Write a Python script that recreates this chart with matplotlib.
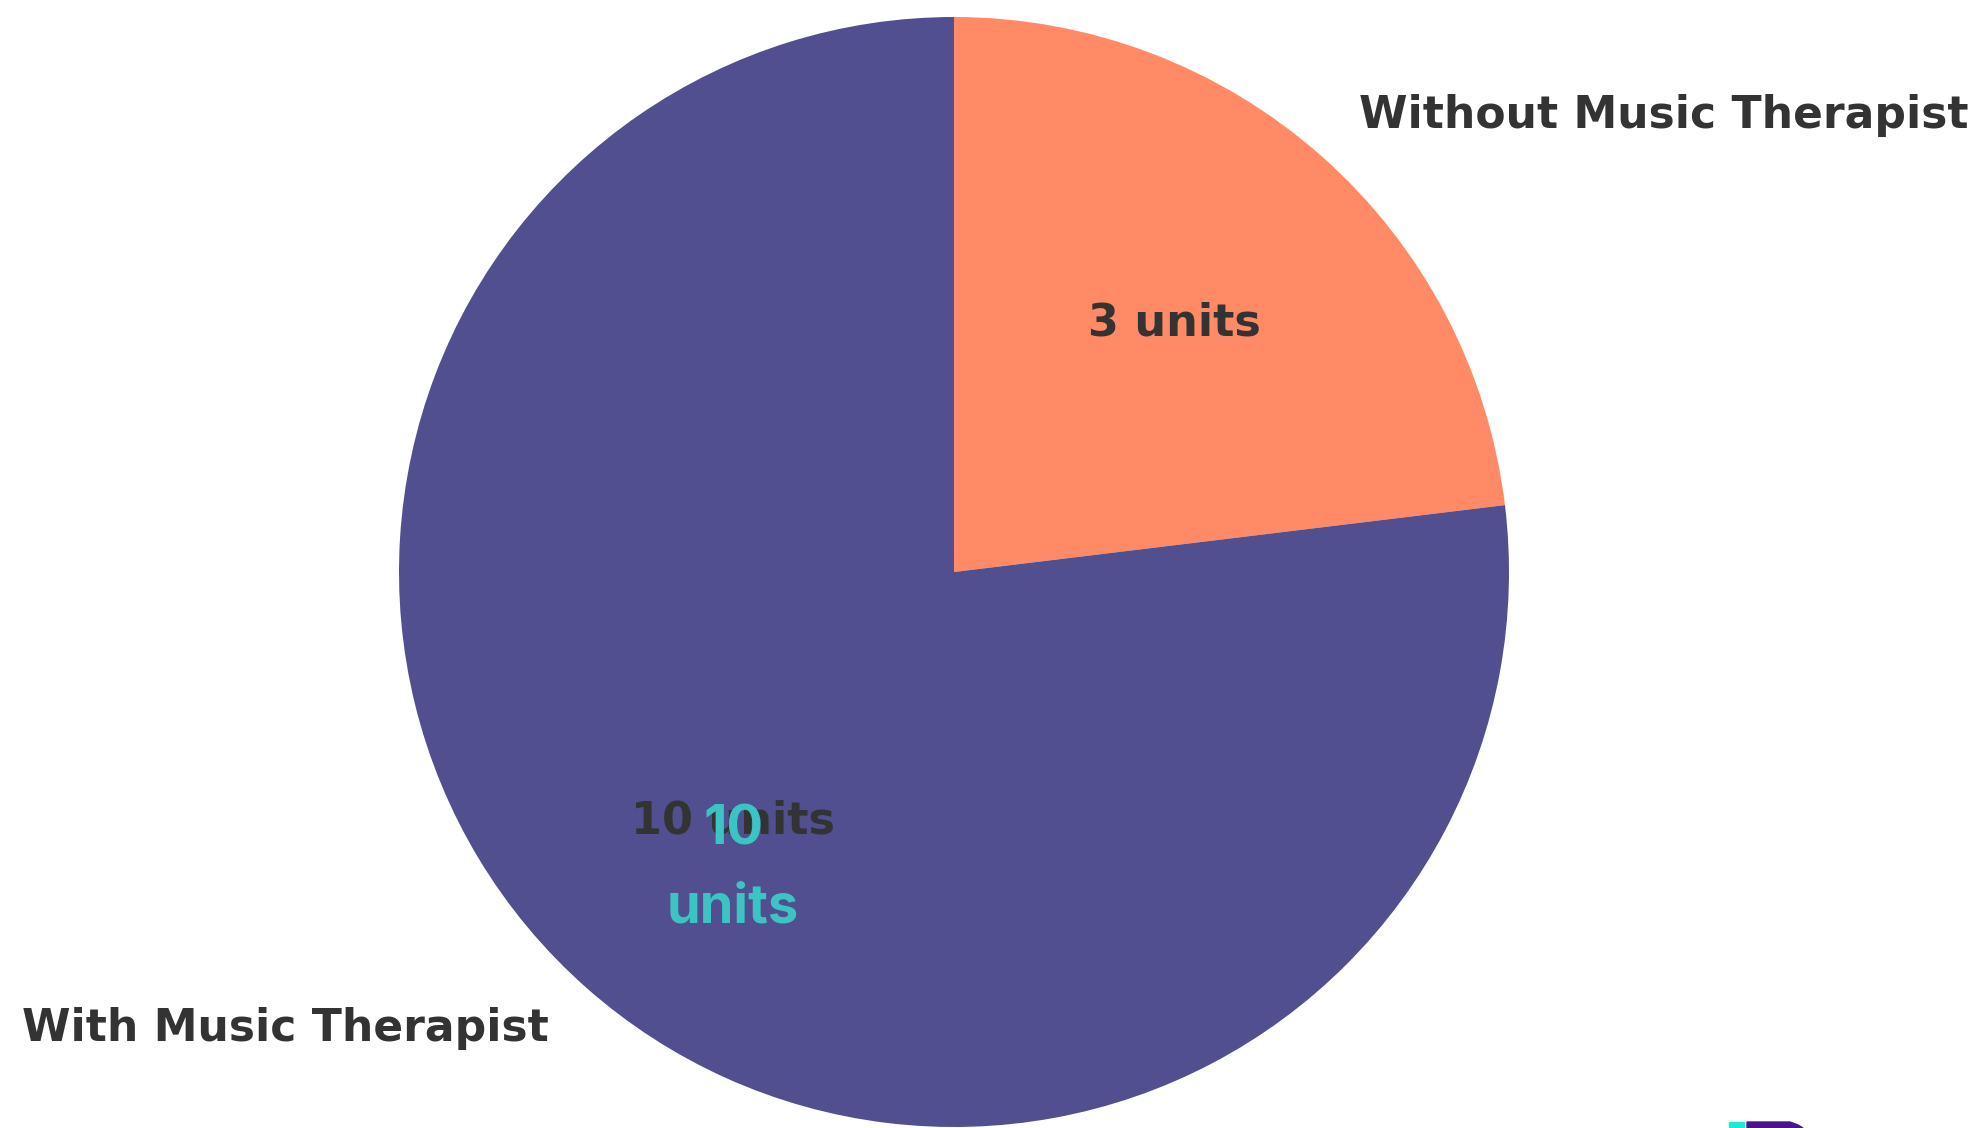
import numpy as np
import matplotlib
matplotlib.use('Agg')
import matplotlib.pyplot as plt
from matplotlib.patches import Rectangle, Polygon

# -------------------------------------------------------------------------
# data
# -------------------------------------------------------------------------
labels = ['Without Music Therapist', 'With Music Therapist']
values = [3, 10]
colors = ['#FF8A65', '#514F8F']
text_dark = '#333333'
teal = '#3CC4C4'

W, H = 1984, 1128
fig = plt.figure(figsize=(W / 100, H / 100), dpi=100)
ax = fig.add_axes([0, 0, 1, 1])

wedges, texts, autotexts = ax.pie(
    values, labels=labels, colors=colors, startangle=90, counterclock=False,
    autopct=lambda p: '%d units' % round(p * sum(values) / 100),
    pctdistance=0.6, labeldistance=1.1,
    textprops=dict(color=text_dark, fontweight='bold', family='DejaVu Sans',
                   fontsize=32),
    radius=1.0)
for t in texts:
    t.set_fontsize(31.7)

ax.set_aspect('equal')
# pie centre at (954, 572) px, radius 555 px
r_px = 555.0
cx, cy = 954.0, 572.0
ax.set_xlim(-cx / r_px, (W - cx) / r_px)
ax.set_ylim(-(H - cy) / r_px, cy / r_px)
ax.axis('off')

# second, overlapping label on the big slice
x0, y0 = autotexts[1].get_position()
ax.text(x0, y0 - 101 / r_px, '%d\nunits' % values[1], ha='center', va='baseline',
        color=teal, fontsize=39, fontweight='bold',
        family=['Inter', 'DejaVu Sans'], linespacing=1.66)

# cropped logo at the bottom edge
fig.patches.append(Rectangle((1729 / W, 0), 15 / W, 6 / H, transform=fig.transFigure,
                             color='#1DE9D6', zorder=5))
pts = [(1747, 0), (1747, 6), (1790, 6), (1798, 3), (1803, 0)]
fig.patches.append(Polygon([(x / W, y / H) for x, y in pts], closed=True,
                           transform=fig.transFigure, color='#4A148C', zorder=5))

fig.savefig('out.png', dpi=100)
